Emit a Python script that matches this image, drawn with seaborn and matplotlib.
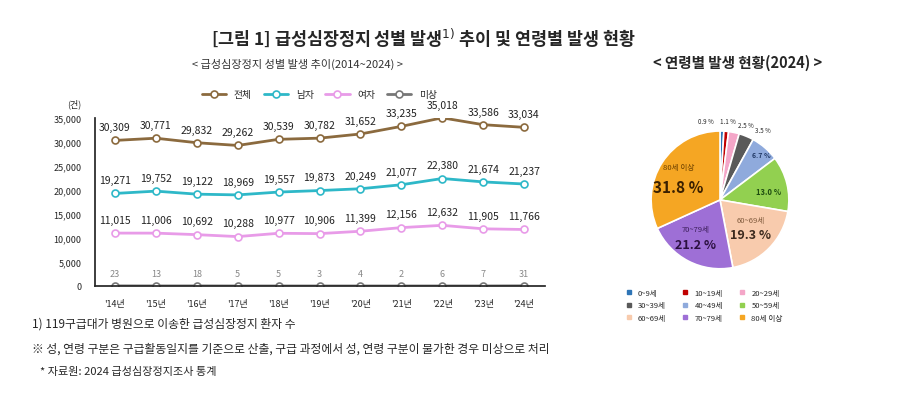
import seaborn as sns
import pandas as pd
import matplotlib.pyplot as plt

years = ["'14년", "'15년", "'16년", "'17년", "'18년", "'19년", "'20년", "'21년", "'22년", "'23년", "'24년"]
total = [30309, 30771, 29832, 29262, 30539, 30782, 31652, 33235, 35018, 33586, 33034]
male = [19271, 19752, 19122, 18969, 19557, 19873, 20249, 21077, 22380, 21674, 21237]
female = [11015, 11006, 10692, 10288, 10977, 10906, 11399, 12156, 12632, 11905, 11766]
unknown = [23, 13, 18, 5, 5, 3, 4, 2, 6, 7, 31]

age_labels = ['0~9세', '10~19세', '20~29세', '30~39세', '40~49세', '50~59세', '60~69세', '70~79세', '80세 이상']
age_pct = [0.9, 1.1, 2.5, 3.5, 6.7, 13.0, 19.3, 21.2, 31.8]
age_colors = ['#2e75b6', '#c00000', '#f4a6c8', '#595959', '#8faadc', '#92d050', '#f8cbad', '#9e6fd6', '#f5a623']

sns.set_theme(style='white')
plt.rcParams['font.family'] = ['Noto Sans CJK KR', 'DejaVu Sans']

fig = plt.figure(figsize=(9, 4.1), dpi=100)
fig.text(0.47, 0.89, '[그림 1] 급성심장정지 성별 발생$^{1)}$ 추이 및 연령별 발생 현황',
         ha='center', fontsize=12.5, fontweight='bold')
fig.text(0.33, 0.835, '< 급성심장정지 성별 발생 추이(2014~2024) >', ha='center', fontsize=8, color='#333333')
fig.text(0.82, 0.835, '< 연령별 발생 현황(2024) >', ha='center', fontsize=10.5, fontweight='bold')

series = {'전체': total, '남자': male, '여자': female, '미상': unknown}
palette = {'전체': '#8b6a3e', '남자': '#2eb8c8', '여자': '#e89be8', '미상': '#777777'}

ax = fig.add_axes([0.105, 0.30, 0.50, 0.41])
for s, vals in series.items():
    sub = pd.DataFrame({'year': years, 'value': vals})
    sns.lineplot(data=sub, x='year', y='value', color=palette[s], sort=False, label=s,
                 marker='o', markersize=5, markerfacecolor='white', markeredgecolor=palette[s],
                 markeredgewidth=1.2, linewidth=2, ax=ax)
    for i, v in enumerate(vals):
        ax.text(i, v + 1700, f'{v:,}', ha='center', va='bottom',
                fontsize=7.5 if s != '미상' else 6.5,
                color='#222222' if s != '미상' else '#888888')
ax.set_ylim(0, 35000)
ax.set_yticks(range(0, 35001, 5000))
ax.set_yticklabels([f'{t:,}' for t in range(0, 35001, 5000)], fontsize=6.5)
ax.tick_params(axis='x', labelsize=6.5)
ax.set_xlim(-0.5, 10.5)
ax.set_xlabel('')
ax.set_ylabel('')
sns.despine(ax=ax)
ax.text(-0.03, 1.07, '(건)', transform=ax.transAxes, fontsize=6.5, ha='right')
ax.legend(loc='lower center', bbox_to_anchor=(0.5, 1.06), ncol=4, frameon=False,
          fontsize=7, handlelength=2.5, columnspacing=1.2)

pax = fig.add_axes([0.70, 0.30, 0.20, 0.42])
pax.pie(age_pct, colors=age_colors, startangle=90, counterclock=False,
        wedgeprops=dict(edgecolor='white', linewidth=1.2))
pax.set_aspect('equal')
small = {0: (-0.2, 1.12), 1: (0.12, 1.12), 2: (0.38, 1.06), 3: (0.62, 0.98)}
for i, (x, y) in small.items():
    pax.text(x, y, f'{age_pct[i]:.1f} %', fontsize=4.5, ha='center')
pax.text(0.6, 0.62, '6.7 %', fontsize=5, ha='center', fontweight='bold', color='#203864')
pax.text(0.7, 0.08, '13.0 %', fontsize=5.5, ha='center', fontweight='bold', color='#1e4d10')
pax.text(0.45, -0.32, '60~69세', fontsize=5.5, ha='center', color='#7f5a3c')
pax.text(0.45, -0.55, '19.3 %', fontsize=9, ha='center', fontweight='bold', color='#3c2a1e')
pax.text(-0.35, -0.45, '70~79세', fontsize=5.5, ha='center', color='#3c1e5a')
pax.text(-0.35, -0.7, '21.2 %', fontsize=9, ha='center', fontweight='bold', color='#2b1040')
pax.text(-0.6, 0.45, '80세 이상', fontsize=5.5, ha='center', color='#6b4000')
pax.text(-0.6, 0.12, '31.8 %', fontsize=11, ha='center', fontweight='bold', color='#3a2000')

# reorder so the 3-column legend fills row-wise
order = [0, 3, 6, 1, 4, 7, 2, 5, 8]
handles = [plt.Line2D([], [], marker='s', linestyle='', color=age_colors[i], markersize=3) for i in order]
fig.legend(handles, [age_labels[i] for i in order], loc='upper center', bbox_to_anchor=(0.78, 0.31),
           ncol=3, frameon=False, fontsize=5.5, handletextpad=0.2, columnspacing=1.5, labelspacing=0.6)

fig.text(0.035, 0.2, '1) 119구급대가 병원으로 이송한 급성심장정지 환자 수', fontsize=8.5)
fig.text(0.035, 0.14, '※ 성, 연령 구분은 구급활동일지를 기준으로 산출, 구급 과정에서 성, 연령 구분이 불가한 경우 미상으로 처리', fontsize=8.5)
fig.text(0.045, 0.085, '* 자료원: 2024 급성심장정지조사 통계', fontsize=8)

fig.savefig('out.png', dpi=100)
